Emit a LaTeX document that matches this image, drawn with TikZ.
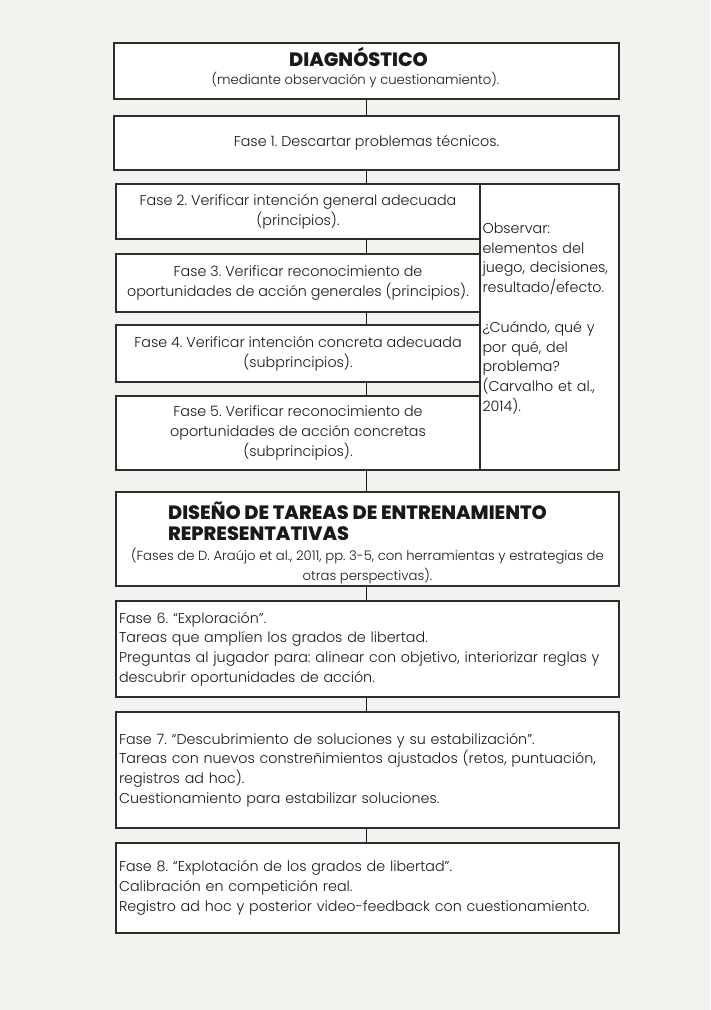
\documentclass[tikz,border=0pt]{standalone}
\usepackage{fontspec}
\setmainfont{Poppins}[UprightFont={* Light}, BoldFont={* Bold}]
\newfontfamily\headfam{Poppins}[UprightFont={* ExtraBold}]
\definecolor{bg}{RGB}{243,242,238}
\definecolor{ink}{RGB}{25,25,25}
\definecolor{edge}{RGB}{45,45,45}
\newcommand{\headfont}{\fontsize{19.3}{21}\selectfont\headfam}
\newcommand{\subfont}{\fontsize{13.2}{19.5}\selectfont}
\begin{document}
\frenchspacing
\begin{tikzpicture}[x=1pt,y=-1pt,
  box/.style={draw=edge, line width=1.3pt, fill=white, rectangle, inner xsep=3pt, inner ysep=0pt,
    text=ink, font=\fontsize{14.3}{19.8}\selectfont\frenchspacing},
  cbox/.style={box, align=center},
  lbox/.style={box, align=left},
  link/.style={draw=ink, line width=1.8pt}]
\fill[bg] (0,0) rectangle (710,1010);
\useasboundingbox (0,0) rectangle (710,1010);

\node[cbox, minimum width=505pt, minimum height=56pt] (diag) at (366.5,71)
  {\raisebox{2pt}[\height][\depth]{\begin{tabular}{@{}c@{}}\hspace*{-16pt}\headfont DIAGNÓSTICO\\[-2pt]\hspace*{-22pt}\subfont (mediante observación y cuestionamiento).\end{tabular}}};
\node[cbox, minimum width=505pt, minimum height=54pt] (f1) at (366.5,143)
  {Fase 1. Descartar problemas técnicos.};
\node[cbox, minimum width=364pt, minimum height=55pt] (f2) at (298,211.5)
  {Fase 2. Verificar intención general adecuada\\(principios).};
\node[cbox, minimum width=364pt, minimum height=58pt] (f3) at (298,283)
  {Fase 3. Verificar reconocimiento de\\oportunidades de acción generales (principios).};
\node[cbox, minimum width=364pt, minimum height=57pt] (f4) at (298,353.5)
  {Fase 4. Verificar intención concreta adecuada\\(subprincipios).};
\node[cbox, minimum width=364pt, minimum height=74pt] (f5) at (298,433)
  {Fase 5. Verificar reconocimiento de\\oportunidades de acción concretas\\(subprincipios).};
\node[lbox, text width=134pt, minimum width=139pt, minimum height=286pt, inner xsep=2.5pt] (obs) at (549.5,327)
  {Observar:\\elementos del\\juego, decisiones,\\resultado/efecto.\\\mbox{}\\¿Cuándo, qué y\\por qué, del\\problema?\\(Carvalho et al.,\\2014).\\\mbox{}};
\node[cbox, minimum width=503pt, minimum height=94pt] (dis) at (367.5,539)
  {\raisebox{-5pt}[\height][\depth]{\begin{tabular}{@{}c@{}}
   \hspace*{-20pt}\begin{tabular}{@{}l@{}}\headfont DISEÑO DE TAREAS DE ENTRENAMIENTO\\[1pt]\headfont REPRESENTATIVAS\end{tabular}\\[3pt]
   \subfont (Fases de D. Araújo et al., 2011, pp. 3-5, con herramientas y estrategias de\\
   \subfont otras perspectivas).\end{tabular}}};
\node[lbox, text width=497pt, minimum width=503pt, minimum height=96pt] (f6) at (367.5,649)
  {Fase 6. “Exploración”.\\Tareas que amplíen los grados de libertad.\\Preguntas al jugador para: alinear con objetivo, interiorizar reglas y\\descubrir oportunidades de acción.};
\node[lbox, text width=497pt, minimum width=503pt, minimum height=116pt] (f7) at (367.5,770)
  {Fase 7. “Descubrimiento de soluciones y su estabilización”.\\Tareas con nuevos constreñimientos ajustados (retos, puntuación,\\registros ad hoc).\\Cuestionamiento para estabilizar soluciones.};
\node[lbox, text width=497pt, minimum width=503pt, minimum height=90pt] (f8) at (367.5,888)
  {Fase 8. “Explotación de los grados de libertad”.\\Calibración en competición real.\\Registro ad hoc y posterior video-feedback con cuestionamiento.};

\draw[link] (diag.south) -- (f1.north);
\draw[link] (f1.south) -- (f1.south |- f2.north);
\draw[link] (f1.south |- f2.south) -- (f1.south |- f3.north);
\draw[link] (f1.south |- f3.south) -- (f1.south |- f4.north);
\draw[link] (f1.south |- f4.south) -- (f1.south |- f5.north);
\draw[link] (f1.south |- f5.south) -- (f1.south |- dis.north);
\draw[link] (f1.south |- dis.south) -- (f1.south |- f6.north);
\draw[link] (f1.south |- f6.south) -- (f1.south |- f7.north);
\draw[link] (f1.south |- f7.south) -- (f1.south |- f8.north);
\end{tikzpicture}
\end{document}
